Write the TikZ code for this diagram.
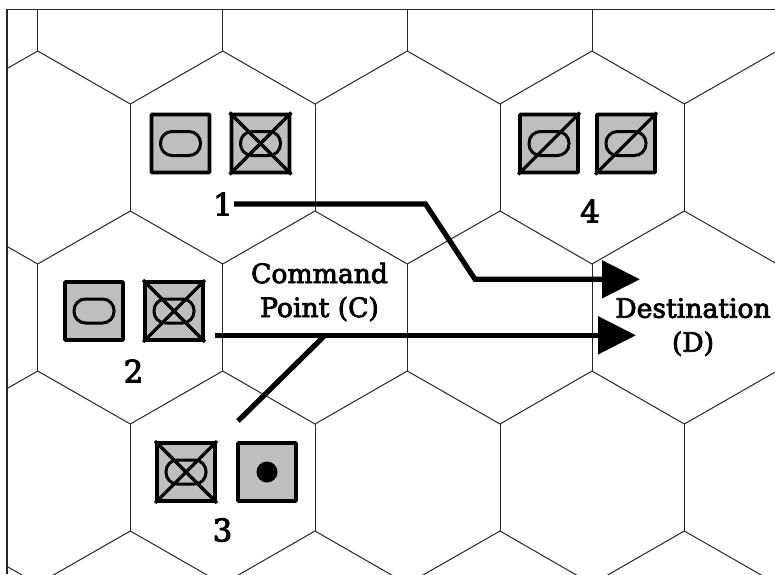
\documentclass[tikz,border=0pt]{standalone}
\usepackage{fontspec}
\setmainfont[FakeBold=3]{DejaVu Serif}
\usetikzlibrary{arrows.meta}
\definecolor{countergray}{HTML}{BEBEBE}
\tikzset{
	hexedge/.style={draw=black!85,line width=1pt},
	counter/.style={draw,fill=countergray,line width=3.8pt,rounded corners=.8pt,minimum size=58pt,inner sep=0pt},
	oval/.style={draw,line width=3pt,rounded corners=11.5pt,minimum width=40pt,minimum height=24pt,inner sep=0pt},
	crossline/.style={line width=3.2pt},
	route/.style={line width=5.2pt},
	routehead/.style={route,-{Triangle[length=38pt,width=37pt]}},
	place/.style={font=\fontsize{26.6}{34}\selectfont,align=center,inner sep=0pt},
	stack/.style={font=\fontsize{31}{31}\selectfont,inner sep=0pt}
}
\begin{document}
\begin{tikzpicture}[x=1pt,y=-1pt]
	\useasboundingbox (0,0) rectangle (775,574);
	% hex grid
	\begin{scope}
		\clip (7,9.5) rectangle (775,574);
		\foreach \ya/\yb in {51/104,264/211,371/424,584/531}
			\draw[hexedge] (-54.7,\yb)--(37.7,\ya)--(130.3,\yb)--(222.7,\ya)--(315,\yb)
				--(407.3,\ya)--(500,\yb)--(592,\ya)--(684.3,\yb)--(777,\ya);
		\foreach \x in {37.7,222.7,407.3,592} {
			\draw[hexedge] (\x,9.5)--(\x,51);
			\draw[hexedge] (\x,264)--(\x,371);
		}
		\foreach \x in {130.3,315,500,684.3} {
			\draw[hexedge] (\x,104)--(\x,211);
			\draw[hexedge] (\x,424)--(\x,531);
		}
	\end{scope}
	\draw[line width=1.6pt,black!85] (7,574)--(7,9.5)--(775,9.5);
	% counters
	\foreach \cname/\x/\y in {oneA/180.5/143.5,oneB/260.5/143.5,twoA/94/311,twoB/174/311,
		threeA/186/472,threeB/267/472,fourA/549/143.5,fourB/626/143.5}
		\node[counter] (\cname) at (\x,\y) {};
	\foreach \cname in {oneA,oneB,twoA,twoB,threeA,fourA,fourB}
		\node[oval] (oval\cname) at (\cname) {};
	% both diagonals
	\foreach \cname in {oneB,twoB,threeA} {
		\draw[crossline] (\cname.north west)--(\cname.south east);
		\draw[crossline] (\cname.north east)--(\cname.south west);
	}
	% one diagonal
	\foreach \cname in {fourA,fourB}
		\draw[crossline] (\cname.north east)--(\cname.south west);
	\node[circle,fill=black,minimum size=21pt,inner sep=0pt] (dotC) at (threeB) {};
	% labels
	\node[stack] (stackA) at (223,204) {1};
	\node[stack] (stackB) at (133.5,371) {2};
	\node[stack] (stackC) at (222.5,530) {3};
	\node[stack] (stackD) at (590,211) {4};
	\node[place] (cmdpt) at (319.5,292) {Command\\Point (C)};
	\node[place] (dest) at (693,327) {Destination\\(D)};
	% routes
	\coordinate (startA) at (234,204);
	\coordinate (bendA) at (425.5,204);
	\coordinate (bendB) at (475,279.3);
	\coordinate (tipA) at (640,279.3);
	\coordinate (startB) at (215,335.3);
	\coordinate (tipB) at (636,335.3);
	\coordinate (startC) at (238,421);
	\coordinate (joinC) at (325,335.3);
	\draw[routehead] (startA)--(bendA)--(bendB)--(tipA);
	\draw[routehead] (startB)--(tipB);
	\draw[route] (startC)--(joinC);
\end{tikzpicture}
\end{document}
